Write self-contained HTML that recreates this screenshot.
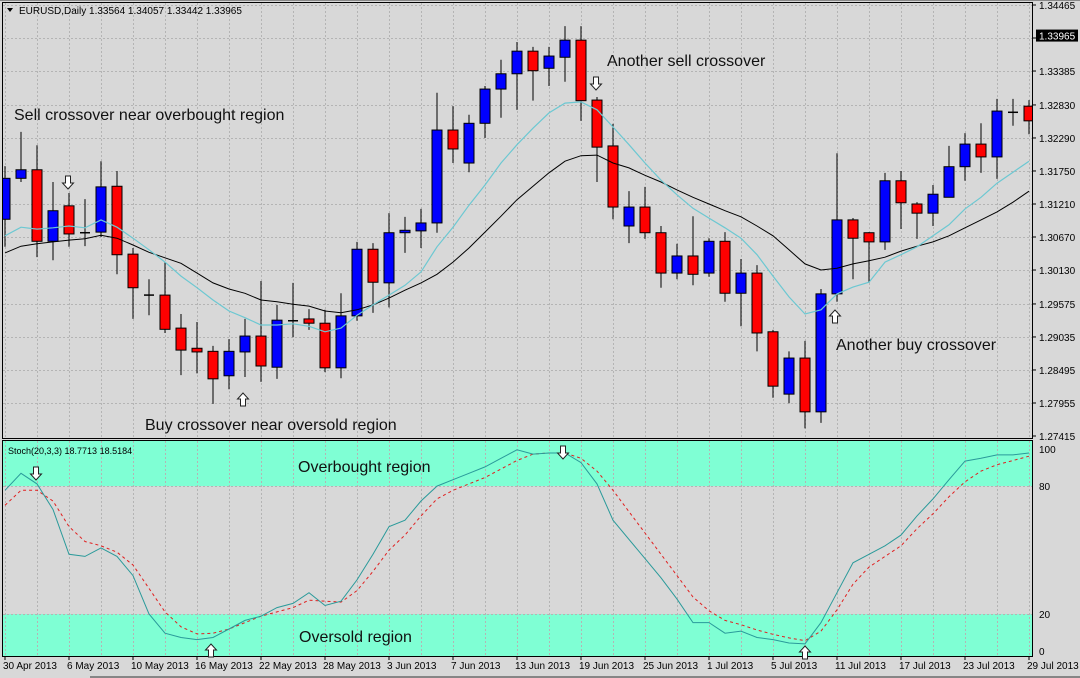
<!DOCTYPE html>
<html><head><meta charset="utf-8"><style>
html,body{margin:0;padding:0;background:#fff;}
#wrap{position:relative;width:1080px;height:678px;overflow:hidden;background:#d8d8d8;font-family:"Liberation Sans",sans-serif;}
svg{position:absolute;left:0;top:0;}
</style></head><body>
<div id="wrap">
<svg id="chart" width="1080" height="678" viewBox="0 0 1080 678"></svg>
</div>
<script>
const opens=[1.3096,1.3163,1.3177,1.3060,1.3118,1.3074,1.3075,1.3150,1.3039,1.2970,1.2972,1.2918,1.2885,1.2880,1.2840,1.2879,1.2905,1.2854,1.2930,1.2933,1.2926,1.2853,1.2938,1.3047,1.2992,1.3074,1.3077,1.3090,1.3242,1.3188,1.3253,1.3309,1.3334,1.3371,1.3343,1.3361,1.3389,1.3291,1.3216,1.3085,1.3116,1.3074,1.3008,1.3036,1.3008,1.3060,1.2975,1.3008,1.2912,1.2810,1.2869,1.2781,1.2974,1.3095,1.3074,1.3059,1.3159,1.3121,1.3106,1.3132,1.3182,1.3219,1.3198,1.3271,1.3281];
const highs=[1.3183,1.3239,1.3217,1.3157,1.3139,1.3129,1.3191,1.3175,1.3049,1.2998,1.3026,1.2941,1.2928,1.2889,1.2900,1.2933,1.2995,1.2956,1.2992,1.2949,1.2948,1.2975,1.3059,1.3057,1.3106,1.3100,1.3113,1.3303,1.3281,1.3267,1.3314,1.3357,1.3386,1.3378,1.3378,1.3412,1.3412,1.3296,1.3252,1.3142,1.3149,1.3085,1.3056,1.3101,1.3065,1.3075,1.3031,1.3021,1.2915,1.2880,1.2897,1.2982,1.3204,1.3098,1.3075,1.3172,1.3175,1.3124,1.3152,1.3216,1.3237,1.3253,1.3293,1.3293,1.3291];
const lows=[1.3051,1.3157,1.3034,1.3029,1.3051,1.3052,1.3067,1.3006,1.2933,1.2939,1.2910,1.2841,1.2844,1.2794,1.2818,1.2838,1.2830,1.2835,1.2903,1.2915,1.2846,1.2836,1.2930,1.2943,1.2952,1.3041,1.3049,1.3074,1.3188,1.3173,1.3229,1.3262,1.3275,1.3290,1.3314,1.3321,1.3257,1.3157,1.3096,1.3057,1.3064,1.2984,1.2998,1.2988,1.3002,1.2961,1.2921,1.2880,1.2804,1.2795,1.2754,1.2763,1.2961,1.2998,1.2992,1.3046,1.3080,1.3064,1.3085,1.3132,1.3159,1.3172,1.3162,1.3249,1.3235];
const closes=[1.3163,1.3177,1.3060,1.3110,1.3072,1.3074,1.3149,1.3038,1.2984,1.2972,1.2916,1.2882,1.2879,1.2835,1.2880,1.2905,1.2856,1.2931,1.2930,1.2926,1.2853,1.2938,1.3047,1.2993,1.3074,1.3078,1.3090,1.3242,1.3211,1.3253,1.3309,1.3334,1.3371,1.3339,1.3363,1.3389,1.3290,1.3214,1.3116,1.3116,1.3074,1.3008,1.3036,1.3006,1.3060,1.2975,1.3008,1.2910,1.2823,1.2869,1.2781,1.2974,1.3095,1.3065,1.3059,1.3159,1.3123,1.3106,1.3137,1.3182,1.3219,1.3198,1.3273,1.3271,1.3257];
const maFast=[1.3069,1.3083,1.3080,1.3082,1.3085,1.3082,1.3095,1.3083,1.3065,1.3046,1.3026,1.3003,1.2984,1.2964,1.2946,1.2935,1.2923,1.2923,1.2925,1.2921,1.2912,1.2918,1.2939,1.2956,1.2972,1.2988,1.3010,1.3051,1.3083,1.3119,1.3152,1.3188,1.3218,1.3245,1.3270,1.3286,1.3288,1.3275,1.3247,1.3218,1.3188,1.3160,1.3136,1.3114,1.3098,1.3082,1.3065,1.3038,1.3003,1.2969,1.2941,1.2948,1.2974,1.2985,1.2993,1.3026,1.3038,1.3051,1.3069,1.3087,1.3113,1.3132,1.3155,1.3173,1.3191];
const maSlow=[1.3041,1.3052,1.3056,1.3059,1.3062,1.3064,1.3070,1.3065,1.3054,1.3042,1.3033,1.3024,1.3008,1.2992,1.2982,1.2975,1.2964,1.2961,1.2957,1.2954,1.2946,1.2943,1.2948,1.2956,1.2967,1.2980,1.2992,1.3006,1.3026,1.3049,1.3075,1.3101,1.3128,1.3150,1.3172,1.3191,1.3200,1.3201,1.3188,1.3180,1.3168,1.3157,1.3144,1.3132,1.3121,1.3110,1.3100,1.3085,1.3069,1.3046,1.3023,1.3013,1.3016,1.3023,1.3028,1.3034,1.3044,1.3052,1.3059,1.3069,1.3082,1.3095,1.3108,1.3124,1.3142];
const stochK=[78,86,81,69,48,47,51,47,38,20,11,9,8,9,13,17,19,23,25,30,24,26,36,48,61,64,73,80,83,86,89,93,97,95,95.5,95.5,91,81,64,55,46,37,27,16,16,11,12,9,8,6.4,6,16,30,44,48,52,57,66,74,83,91.7,93,94.6,94.6,95.5];
const stochD=[71,78,78,73,61,54,52,49,43,32,21,14,10.7,11,13,16,19,21,23,26.5,26,25.6,31,40,50,57,66,74,78,81,84,88,92,95,95.5,95.5,93,87,78,68,58,48,38,28,21.5,17,15,12.5,10.5,8.8,7.5,12,22,34,42,47,52,60,67,75,82,87,90,92,94];
const priceTicks=[1.34465,1.33925,1.33385,1.32830,1.32290,1.31750,1.31210,1.30670,1.30130,1.29575,1.29035,1.28495,1.27955,1.27415];
const priceTickLabels=["1.34465","","1.33385","1.32830","1.32290","1.31750","1.31210","1.30670","1.30130","1.29575","1.29035","1.28495","1.27955","1.27415"];
const dateLabels=["30 Apr 2013","6 May 2013","10 May 2013","16 May 2013","22 May 2013","28 May 2013","3 Jun 2013","7 Jun 2013","13 Jun 2013","19 Jun 2013","25 Jun 2013","1 Jul 2013","5 Jul 2013","11 Jul 2013","17 Jul 2013","23 Jul 2013","29 Jul 2013"];
const stochTicks=[100,80,20,0];
const lastPrice=1.33965;

const NS="http://www.w3.org/2000/svg";
const svg=document.getElementById('chart');
function el(tag,attrs,parent){const e=document.createElementNS(NS,tag);for(const k in attrs)e.setAttribute(k,attrs[k]);(parent||svg).appendChild(e);return e;}
const yP=p=>5+(1.34465-p)*6113.5;
const xI=i=>5+16*i;
const yS=v=>656.7-2.133*v;
const PL=3,PR=1032,PT=3,PB=438,ST=441,SB=656;

const defs=el('defs',{});
const c1=el('clipPath',{id:'cm'},defs);el('rect',{x:PL,y:PT,width:PR-PL,height:PB-PT},c1);
const c2=el('clipPath',{id:'cs'},defs);el('rect',{x:PL,y:ST,width:PR-PL,height:SB-ST},c2);

const bands=el('g',{'clip-path':'url(#cs)'});

const ob=el('rect',{x:PL,y:ST,width:PR-PL,height:yS(80)-ST,fill:'#7fffd4'},bands);

const os=el('rect',{x:PL,y:yS(20),width:PR-PL,height:SB-yS(20),fill:'#7fffd4'},bands);


const grid=el('g',{stroke:'#b4b4b4','stroke-width':1,'stroke-dasharray':'2,2',fill:'none'});

for(let i=0;i<65;i+=2){const x=Math.round(xI(i))+0.5;if(x>PL&&x<PR){el('line',{x1:x,y1:PT,x2:x,y2:PB},grid);el('line',{x1:x,y1:ST,x2:x,y2:SB},grid);}}
priceTicks.forEach(p=>{const y=Math.round(yP(p))+0.5;if(y>PT+2&&y<PB-2)el('line',{x1:PL,y1:y,x2:PR,y2:y},grid);});
[80,20].forEach(v=>{const y=Math.round(yS(v))+0.5;el('line',{x1:PL,y1:y,x2:PR,y2:y},grid);});

const cg=el('g',{'clip-path':'url(#cm)'});

opens.forEach((o,i)=>{
  const c=closes[i],x=xI(i);
  const g=el('g',{},cg);
  
  
  el('line',{x1:x,y1:yP(highs[i]),x2:x,y2:yP(lows[i]),stroke:'#000','stroke-width':1},g);
  const top=yP(Math.max(o,c)),bot=yP(Math.min(o,c));
  if(bot-top<1.5){el('line',{x1:x-5,y1:top,x2:x+5,y2:top,stroke:'#000','stroke-width':1.5},g);}
  else el('rect',{x:x-5,y:top,width:10,height:bot-top,fill:c>o?'#0000ff':'#ff0000',stroke:'#000','stroke-width':1},g);
});
function line(arr,fy,attrs,name,parent){const d=arr.map((v,i)=>(i?'L':'M')+xI(i).toFixed(1)+','+fy(v).toFixed(1)).join('');const p=el('path',Object.assign({d:d,fill:'none'},attrs),parent);return p;}
const mg=el('g',{'clip-path':'url(#cm)'});
line(maSlow,yP,{stroke:'#000','stroke-width':1},'slow-ma-line',mg);
line(maFast,yP,{stroke:'#6cc8d2','stroke-width':1.2},'fast-ma-line',mg);
const sg=el('g',{'clip-path':'url(#cs)'});
line(stochD,yS,{stroke:'#e02020','stroke-width':1,'stroke-dasharray':'3,3'},'stoch-signal-line',sg);
line(stochK,yS,{stroke:'#2a9a9a','stroke-width':1},'stoch-main-line',sg);

const fr=el('g',{fill:'none',stroke:'#000','stroke-width':1});
el('rect',{x:2.5,y:2.5,width:PR-2,height:PB-2},fr);
el('rect',{x:2.5,y:440.5,width:PR-2,height:SB-440},fr);
el('line',{x1:0,y1:0.5,x2:1080,y2:0.5,stroke:'#888'},fr);

const ax=el('g',{'font-size':'10','fill':'#000','font-family':'Liberation Sans, sans-serif'});

priceTicks.forEach((p,i)=>{const y=yP(p);el('line',{x1:PR,y1:y,x2:PR+4,y2:y,stroke:'#000'},ax);if(priceTickLabels[i]){const t=el('text',{x:1039,y:y+4},ax);t.textContent=priceTickLabels[i];}});
const ly=yP(lastPrice);
const lb=el('rect',{x:1036,y:ly-6,width:42,height:12,fill:'#000'},ax);

const lt=el('text',{x:1039,y:ly+4,fill:'#fff'},ax);lt.textContent=lastPrice.toFixed(5);
const sax=el('g',{'font-size':'10','fill':'#000'});

stochTicks.forEach(v=>{const y=Math.min(Math.max(yS(v),449),651);const t=el('text',{x:1039,y:y+4},sax);t.textContent=String(v);});
const dx=el('g',{'font-size':'10','fill':'#000'});

dateLabels.forEach((d,k)=>{const x=xI(k*4);el('line',{x1:x,y1:SB,x2:x,y2:SB+4,stroke:'#000'},dx);const t=el('text',{x:x-2,y:669},dx);t.textContent=d;});
el('line',{x1:90,y1:677,x2:1080,y2:677,stroke:'#333'});

function txt(x,y,s,size,name,fill){const t=el('text',{x:x,y:y,'font-size':size,fill:fill||'#000'});t.textContent=s;return t;}
el('path',{d:'M7,8 L13,8 L10,12 Z',fill:'#000'});
txt(19,14,'EURUSD,Daily  1.33564 1.34057 1.33442 1.33965',10,'symbol-header');
txt(8,454,'Stoch(20,3,3) 18.7713 18.5184',9,'stoch-header');
txt(14,120,'Sell crossover near overbought region',16,'annotation-sell-1','#111');
txt(607,66,'Another sell crossover',16,'annotation-sell-2','#111');
txt(145,430,'Buy crossover near oversold region',16,'annotation-buy-1','#111');
txt(836,350,'Another buy crossover',16,'annotation-buy-2','#111');
txt(298,472,'Overbought region',16,'overbought-label','#111');
txt(299,642,'Oversold region',16,'oversold-label','#111');

function arrow(x,y,down,name){const s=down?1:-1;const d=`M${x-2.5},${y-7*s} L${x+2.5},${y-7*s} L${x+2.5},${y} L${x+5.5},${y} L${x},${y+6*s} L${x-5.5},${y} L${x-2.5},${y} Z`;const p=el('path',{d:d,fill:'#fff',stroke:'#222','stroke-width':1});}
arrow(68,183,true,'sell-arrow-1');
arrow(596,84,true,'sell-arrow-2');
arrow(243,399,false,'buy-arrow-1');
arrow(835,316,false,'buy-arrow-2');
arrow(36,474,true,'stoch-sell-arrow-1');
arrow(563,453,true,'stoch-sell-arrow-2');
arrow(211,650,false,'stoch-buy-arrow-1');
arrow(805,652,false,'stoch-buy-arrow-2');
</script>
</body></html>
